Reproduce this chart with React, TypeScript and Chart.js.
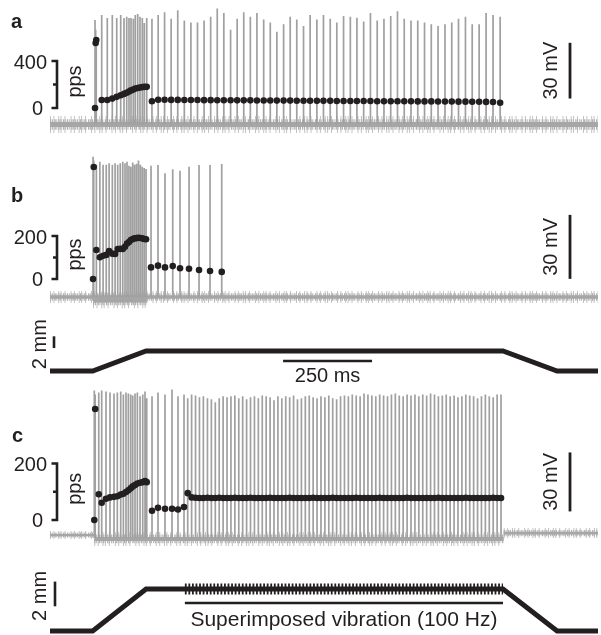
import { useEffect, useRef } from "react";
import { Chart, registerables } from "chart.js";

Chart.register(...registerables);

const W = 601;
const H = 635;
const INK = "#231f20";
const SPIKE = "#a0a0a0";
const FONT = '20px "Liberation Sans", Arial, Helvetica, sans-serif';

// ---------- time axis (ms) ----------
const timeRange = [0, 1540];

// ---------- stimulus (mm) ----------
const stimTimes = [0, 120, 270, 1273, 1425, 1540];
const stimPos = [0, 0, 3.4, 3.4, 0, 0];
const vibrationTimes = [379, 1273];
const vibrationPos = [3.4, 3.4];

// ---------- membrane baseline (mV) ----------
const baseTimesA = [0, 1540];
const baseMVA = [-65, -65];
const baseTimesB = [0, 1540];
const baseMVB = [-65, -65];
const burstBandTimesB = [121, 272];
const burstBandMVB = [-66.5, -66.5];
const preTimesC = [0, 124.5];
const preMVC = [-64.5, -64.5];
const activeTimesC = [124.5, 1275];
const activeMVC = [-66.5, -66.5];
const postTimesC = [1275, 1540];
const postMVC = [-63.5, -63.5];

// ---------- panel a ----------
const spikeTimesA = [
  126.5, 128.3, 130, 145.3, 161, 175.1, 187.5, 198.7, 208, 215.6, 222, 227.7, 234.1, 239.7, 246.5, 252.9, 259.4, 265, 271.8,
  286.5, 304, 322, 340.5, 359, 377.5, 396, 414.5, 433, 451.5, 470, 488.5, 507.5, 526, 544.5, 563, 581.5, 600.5, 619, 637.5,
  656.5, 675, 693.5, 712.5, 731, 750, 768.5, 787.5, 806, 825, 844, 862.5, 881.5, 900.5, 919.5, 938.5, 957.5, 976.5, 995.5,
  1014.5, 1033.5, 1052.5, 1071.5, 1090.5, 1110, 1129, 1148, 1167.5, 1186.5, 1206, 1225.5, 1245, 1265,
];
const spikePeaksA = [
  -8.7, -14, -20, -6, -7.6, -6, -7.6, -6, -7.6, -7, -7.6, -7.6, -8, -6, -5.5, -7, -7.6, -10.3, -7.6,
  -8, -6, -4.5, -8, -3.5, -9, -10, -10, -9, -7, -2.5, -5, -14, -8, -4.5, -7, -5, -8.5, -10, -15,
  -11, -7, -8.5, -12, -6, -8.5, -6, -8, -10, -6.5, -7, -7.5, -9.5, -5, -9, -8, -6.5, -4, -8, -9,
  -9, -10, -11, -12, -11, -10, -8, -7, -11, -11, -5, -6, -7,
];
const rateA = [
  0, 553, 579, 68, 68, 80, 95, 108, 120, 130, 140, 150, 158, 165, 170, 175, 178, 180, 180,
  58, 70, 70, 69, 69, 68, 68, 68, 67, 67, 66, 66, 66, 65, 65, 65, 64, 64, 64, 63,
  63, 63, 62, 62, 62, 61, 61, 61, 60, 60, 60, 59, 59, 59, 58, 58, 58, 57, 57, 57,
  56, 56, 56, 55, 55, 55, 54, 54, 53, 53, 52, 51, 45,
];

// ---------- panel b ----------
const spikeTimesB = [
  121, 122.9, 130.3, 140.1, 149.2, 158.1, 166.1, 175.2, 182.9, 190.3, 197.4, 204.5, 210.8, 216.5, 221.9, 227.2, 232.5,
  237.8, 243.2, 248.6, 253.9, 259.3, 264.7, 270, 283.9, 303.5, 323.2, 344.9, 365.4, 390.7, 418.8, 449.7, 482.6,
];
const spikePeaksB = [
  0.8, -1, -3, -1.6, -3, -3, -2.3, -3, -2.3, -3, -2.3, -1.6, -2.3, -1.6, -3.5, -4, -2, -3, -2.5, -1, -3, -4, -4.5, -5,
  -3.5, -3.1, -7, -5.1, -5.8, -3.9, -3.1, -3.1, -2.6,
];
const rateB = [
  0, 521, 135, 101, 108, 112, 130, 118, 116, 139, 140, 140, 150, 165, 172, 181, 186, 189, 190, 192, 191, 189, 186, 185,
  54, 62, 54, 60, 50, 48, 42, 37, 33,
];

// ---------- panel c ----------
const spikeTimesC = [
  124.5, 127, 137, 145.3, 157.4, 168.6, 179.9, 189.2, 198.7, 206.2, 213.6, 220.2, 226.8, 232.5, 238.9, 245.5, 253, 260.6, 267, 271.8,
  286.7, 303.5, 323.2, 342.9, 359.7, 376.6,
  387, 398, 409, 420, 431,
  442.5, 453.5, 464.5, 475.5, 486.5, 497.5, 508.5, 519.5, 530.5, 541.5,
  552.5, 563.5, 574.5, 585.5, 596.5, 607.5, 618.5, 629.5, 640.5, 651.5,
  662.5, 673.5, 684.5, 695.5, 706.5, 717.5, 728.5, 739.5, 750.5, 761.5,
  772.5, 783.5, 794.5, 805.5, 816.5, 827.5, 838.5, 849.5, 860.5, 871.5,
  882.5, 893.5, 904.5, 915.5, 926.5, 937.5, 948.5, 959.5, 970.5, 981.5,
  992.5, 1003.5, 1014.5, 1025.5, 1036.5, 1047.5, 1058.5, 1069.5, 1080.5, 1091.5,
  1102.5, 1113.5, 1124.5, 1135.5, 1146.5, 1157.5, 1168.5, 1179.5, 1190.5, 1201.5,
  1212.5, 1223.5, 1234.5, 1245.5, 1256.5, 1267.5,
];
const spikePeaksC = [
  9, 7, 8, 9, 8.5, 8, 7.5, 8, 8.5, 7, 8, 7.5, 7, 6.5, 7.5, 8, 6, 7, 8.5, 5,
  6, 8, 7, 9.5, 6, 7,
  5, 7, 6.5, 5.5, 6, 5, 4.5, 3, 5, 6, 5.5, 6, 6.5, 5, 6, 4.5, 5.5, 6, 5, 6.5,
  6, 5.5, 4, 6, 5, 6, 5.5, 6.5, 4.5, 5, 6, 6.5, 5.5, 5, 6, 5.5, 6.5, 5, 4.5, 6,
  6.5, 6, 7, 6.5, 6, 7.5, 7, 6.5, 6, 7, 6.5, 6, 7, 7.5, 6.5, 6, 7, 6.5, 7, 6,
  7, 6.5, 7.5, 7, 6, 6.5, 7, 6, 6.5, 5.5, 6, 7, 6.5, 6, 5, 6, 7, 6, 5.5, 7, 7,
];
const rateC = [
  0, 393, 91, 61, 75, 80, 82, 84, 90, 93, 99, 105, 112, 119, 124, 129, 132, 134, 138, 134,
  33, 43, 40, 40, 37, 46,
  95, 80, 79, 78, 78, 79, 78, 78, 79, 78,
  78, 78, 79, 78, 78, 78, 79, 78, 78, 78,
  78, 79, 78, 78, 78, 78, 79, 78, 78, 78,
  78, 78, 79, 78, 78, 78, 78, 79, 78, 78,
  78, 78, 78, 79, 78, 78, 78, 78, 78, 79,
  78, 78, 78, 78, 78, 78, 79, 78, 78, 78,
  78, 78, 78, 78, 79, 78, 78, 78, 78, 78,
  78, 79, 78, 78, 78, 78, 78, 78, 79, 78, 78,
];

// ---------- scale bars / tick labels ----------
const ppsTicksA = [0, 200, 400];
const ppsTicksB = [0, 100, 200];
const ppsTicksC = [0, 100, 200];
const mvBarA = [-51, -21];
const mvBarB = [-56.5, -26.5];
const mvBarC = [-52.5, -22.5];
const mmBarB = [3.9, 5.9];
const mmBarC = [2.0, 4.0];
const timeBar = [655, 905];

// scale range from two value -> pixel anchors (chart area spans full canvas height)
function band(v0: number, p0: number, v1: number, p1: number) {
  const k = (p0 - p1) / (v1 - v0);
  const max = v0 + p0 / k;
  return { type: "linear" as const, display: false, min: max - H / k, max, bounds: "data" as const };
}

const pts = (xs: number[], ys: number[]) => xs.map((x, i) => ({ x, y: ys[i] }));

function spikeTrace(ts: number[], peaks: number[], base: number) {
  const out: { x: number; y: number | null }[] = [];
  const n = Math.min(ts.length, peaks.length);
  for (let i = 0; i < n; i++) {
    out.push({ x: ts[i], y: base }, { x: ts[i], y: peaks[i] }, { x: ts[i], y: null });
  }
  return out;
}

function rates(ts: number[], r: number[]) {
  const n = Math.min(ts.length, r.length);
  return ts.slice(0, n).map((t, i) => ({ x: t, y: r[i] }));
}

function line(data: any[], yAxisID: string, color: string, width: number, order: number, extra: any = {}) {
  return {
    type: "line" as const,
    data,
    xAxisID: "x",
    yAxisID,
    borderColor: color,
    backgroundColor: color,
    borderWidth: width,
    pointRadius: 0,
    fill: false,
    tension: 0,
    order,
    spanGaps: false,
    borderCapStyle: "butt",
    borderJoinStyle: "miter",
    ...extra,
  };
}

// recorded baseline drawn as a textured gray band (height in px)
function noiseBand(data: any[], yAxisID: string, h: number) {
  return [
    line(data, yAxisID, "#a6a6a6", Math.max(2, h * 0.28), 3),
    line(data, yAxisID, "#b2b2b2", h * 0.62, 4, { borderDash: [1.2, 0.7, 1, 1.5, 1.4, 0.6, 0.9, 1.1] }),
    line(data, yAxisID, "#c3c3c3", h, 5, { borderDash: [1, 2.4, 1, 3.8, 1, 1.4, 1, 2.9, 1, 5] }),
  ];
}

function dots(data: any[], yAxisID: string) {
  return {
    type: "scatter" as const,
    data,
    xAxisID: "x",
    yAxisID,
    pointRadius: 3.3,
    pointBackgroundColor: INK,
    pointBorderWidth: 0,
    showLine: false,
    order: 0,
  };
}

const annotations = {
  id: "annotations",
  afterDatasetsDraw(chart: any) {
    const { ctx, scales } = chart;
    const x = scales.x;
    ctx.save();
    ctx.fillStyle = INK;
    ctx.strokeStyle = INK;
    ctx.lineCap = "butt";
    ctx.lineJoin = "miter";

    // panel letters
    ctx.font = 'bold 20px "Liberation Sans", Arial, Helvetica, sans-serif';
    ctx.textAlign = "left";
    ctx.textBaseline = "alphabetic";
    ctx.fillText("a", 11, 28);
    ctx.fillText("b", 11, 202);
    ctx.fillText("c", 12, 442);

    const rotText = (txt: string, cx: number, cy: number) => {
      ctx.save();
      ctx.translate(cx, cy);
      ctx.rotate(-Math.PI / 2);
      ctx.textAlign = "center";
      ctx.textBaseline = "middle";
      ctx.fillText(txt, 0, 0);
      ctx.restore();
    };

    // pps brackets
    const ppsBar = (s: any, ticks: number[]) => {
      const y0 = s.getPixelForValue(ticks[0]);
      const ym = s.getPixelForValue(ticks[1]);
      const y1 = s.getPixelForValue(ticks[2]);
      ctx.lineWidth = 2.6;
      ctx.beginPath();
      ctx.moveTo(51.5, y1);
      ctx.lineTo(57, y1);
      ctx.lineTo(57, y0);
      ctx.lineTo(51.5, y0);
      ctx.moveTo(53, ym);
      ctx.lineTo(57, ym);
      ctx.stroke();
      ctx.font = FONT;
      ctx.textAlign = "right";
      ctx.textBaseline = "middle";
      ctx.fillText(String(ticks[2]), 47, y1 + 2);
      ctx.fillText(String(ticks[0]), 43, y0 + 1);
      rotText("pps", 75, (y0 + y1) / 2 - 3);
    };
    ppsBar(scales.aP, ppsTicksA);
    ppsBar(scales.bP, ppsTicksB);
    ppsBar(scales.cP, ppsTicksC);

    // 30 mV bars
    const mvBar = (s: any, r: number[]) => {
      const ya = s.getPixelForValue(r[0]);
      const yb = s.getPixelForValue(r[1]);
      ctx.lineWidth = 2.8;
      ctx.beginPath();
      ctx.moveTo(570, ya);
      ctx.lineTo(570, yb);
      ctx.stroke();
      ctx.font = FONT;
      rotText("30 mV", 551, (ya + yb) / 2);
    };
    mvBar(scales.aV, mvBarA);
    mvBar(scales.bV, mvBarB);
    mvBar(scales.cV, mvBarC);

    // 2 mm bars
    const mmBar = (s: any, r: number[], bx: number) => {
      const ya = s.getPixelForValue(r[0]);
      const yb = s.getPixelForValue(r[1]);
      ctx.lineWidth = 2.6;
      ctx.beginPath();
      ctx.moveTo(bx, ya);
      ctx.lineTo(bx, yb);
      ctx.stroke();
      ctx.font = FONT;
      rotText("2 mm", 40, (ya + yb) / 2 + 2);
    };
    mmBar(scales.bM, mmBarB, 54);
    mmBar(scales.cM, mmBarC, 55);

    // 250 ms bar
    const xa = x.getPixelForValue(timeBar[0]);
    const xb = x.getPixelForValue(timeBar[1]);
    ctx.lineWidth = 2.6;
    ctx.beginPath();
    ctx.moveTo(xa, 361);
    ctx.lineTo(xb, 361);
    ctx.stroke();
    ctx.font = FONT;
    ctx.textAlign = "center";
    ctx.textBaseline = "alphabetic";
    ctx.fillText("250 ms", (xa + xb) / 2, 382);

    // vibration underline
    const va = x.getPixelForValue(vibrationTimes[0]);
    const vb = x.getPixelForValue(vibrationTimes[1]);
    ctx.lineWidth = 2.4;
    ctx.beginPath();
    ctx.moveTo(va, 603);
    ctx.lineTo(vb, 603);
    ctx.stroke();
    ctx.font = '21px "Liberation Sans", Arial, Helvetica, sans-serif';
    ctx.textAlign = "center";
    ctx.fillText("Superimposed vibration (100 Hz)", (va + vb) / 2, 626);

    ctx.restore();
  },
};

export default function App() {
  const ref = useRef<HTMLCanvasElement>(null);

  useEffect(() => {
    if (!ref.current) return;
    const datasets: any[] = [
      // firing-rate dots
      dots(rates(spikeTimesA, rateA), "aP"),
      dots(rates(spikeTimesB, rateB), "bP"),
      dots(rates(spikeTimesC, rateC), "cP"),
      // stimulus
      line(pts(stimTimes, stimPos), "bM", INK, 5, 1),
      line(pts(stimTimes, stimPos), "cM", INK, 5, 1),
      line(pts(vibrationTimes, vibrationPos), "cM", INK, 11, 1, { borderDash: [1.8, 1.76] }),
      // spikes
      line(spikeTrace(spikeTimesA, spikePeaksA, -65), "aV", SPIKE, 1.7, 2),
      line(spikeTrace(spikeTimesB, spikePeaksB, -65), "bV", SPIKE, 1.7, 2),
      line(spikeTrace(spikeTimesC, spikePeaksC, -66), "cV", SPIKE, 1.7, 2),
      // baseline noise bands
      ...noiseBand(pts(baseTimesA, baseMVA), "aV", 17),
      ...noiseBand(pts(baseTimesB, baseMVB), "bV", 12),
      ...noiseBand(pts(burstBandTimesB, burstBandMVB), "bV", 16),
      ...noiseBand(pts(preTimesC, preMVC), "cV", 8),
      ...noiseBand(pts(activeTimesC, activeMVC), "cV", 14),
      ...noiseBand(pts(postTimesC, postMVC), "cV", 10),
    ];

    const chart = new Chart(ref.current, {
      type: "line",
      data: { datasets },
      options: {
        responsive: false,
        animation: false,
        devicePixelRatio: 1,
        events: [],
        layout: { padding: { left: 50, right: 3, top: 0, bottom: 0 }, autoPadding: false },
        plugins: { legend: { display: false }, tooltip: { enabled: false }, title: { display: false } },
        scales: {
          x: { type: "linear", display: false, min: timeRange[0], max: timeRange[1], bounds: "data" },
          aV: band(-65, 124.5, -35, 68.8),
          aP: band(0, 108, 400, 61),
          bV: band(-65, 297, -35, 233),
          bP: band(0, 279, 200, 236),
          bM: band(0, 371, 3.4, 351),
          cV: band(-65, 536, -35, 477),
          cP: band(0, 520, 200, 463.5),
          cM: band(0, 631, 3.4, 589),
        },
      } as any,
      plugins: [annotations],
    });
    return () => chart.destroy();
  }, []);

  return (
    <div style={{ position: "absolute", left: 0, top: 0, width: W, height: H, background: "#fff" }}>
      <canvas ref={ref} width={W} height={H} style={{ display: "block", width: W, height: H }} />
    </div>
  );
}
